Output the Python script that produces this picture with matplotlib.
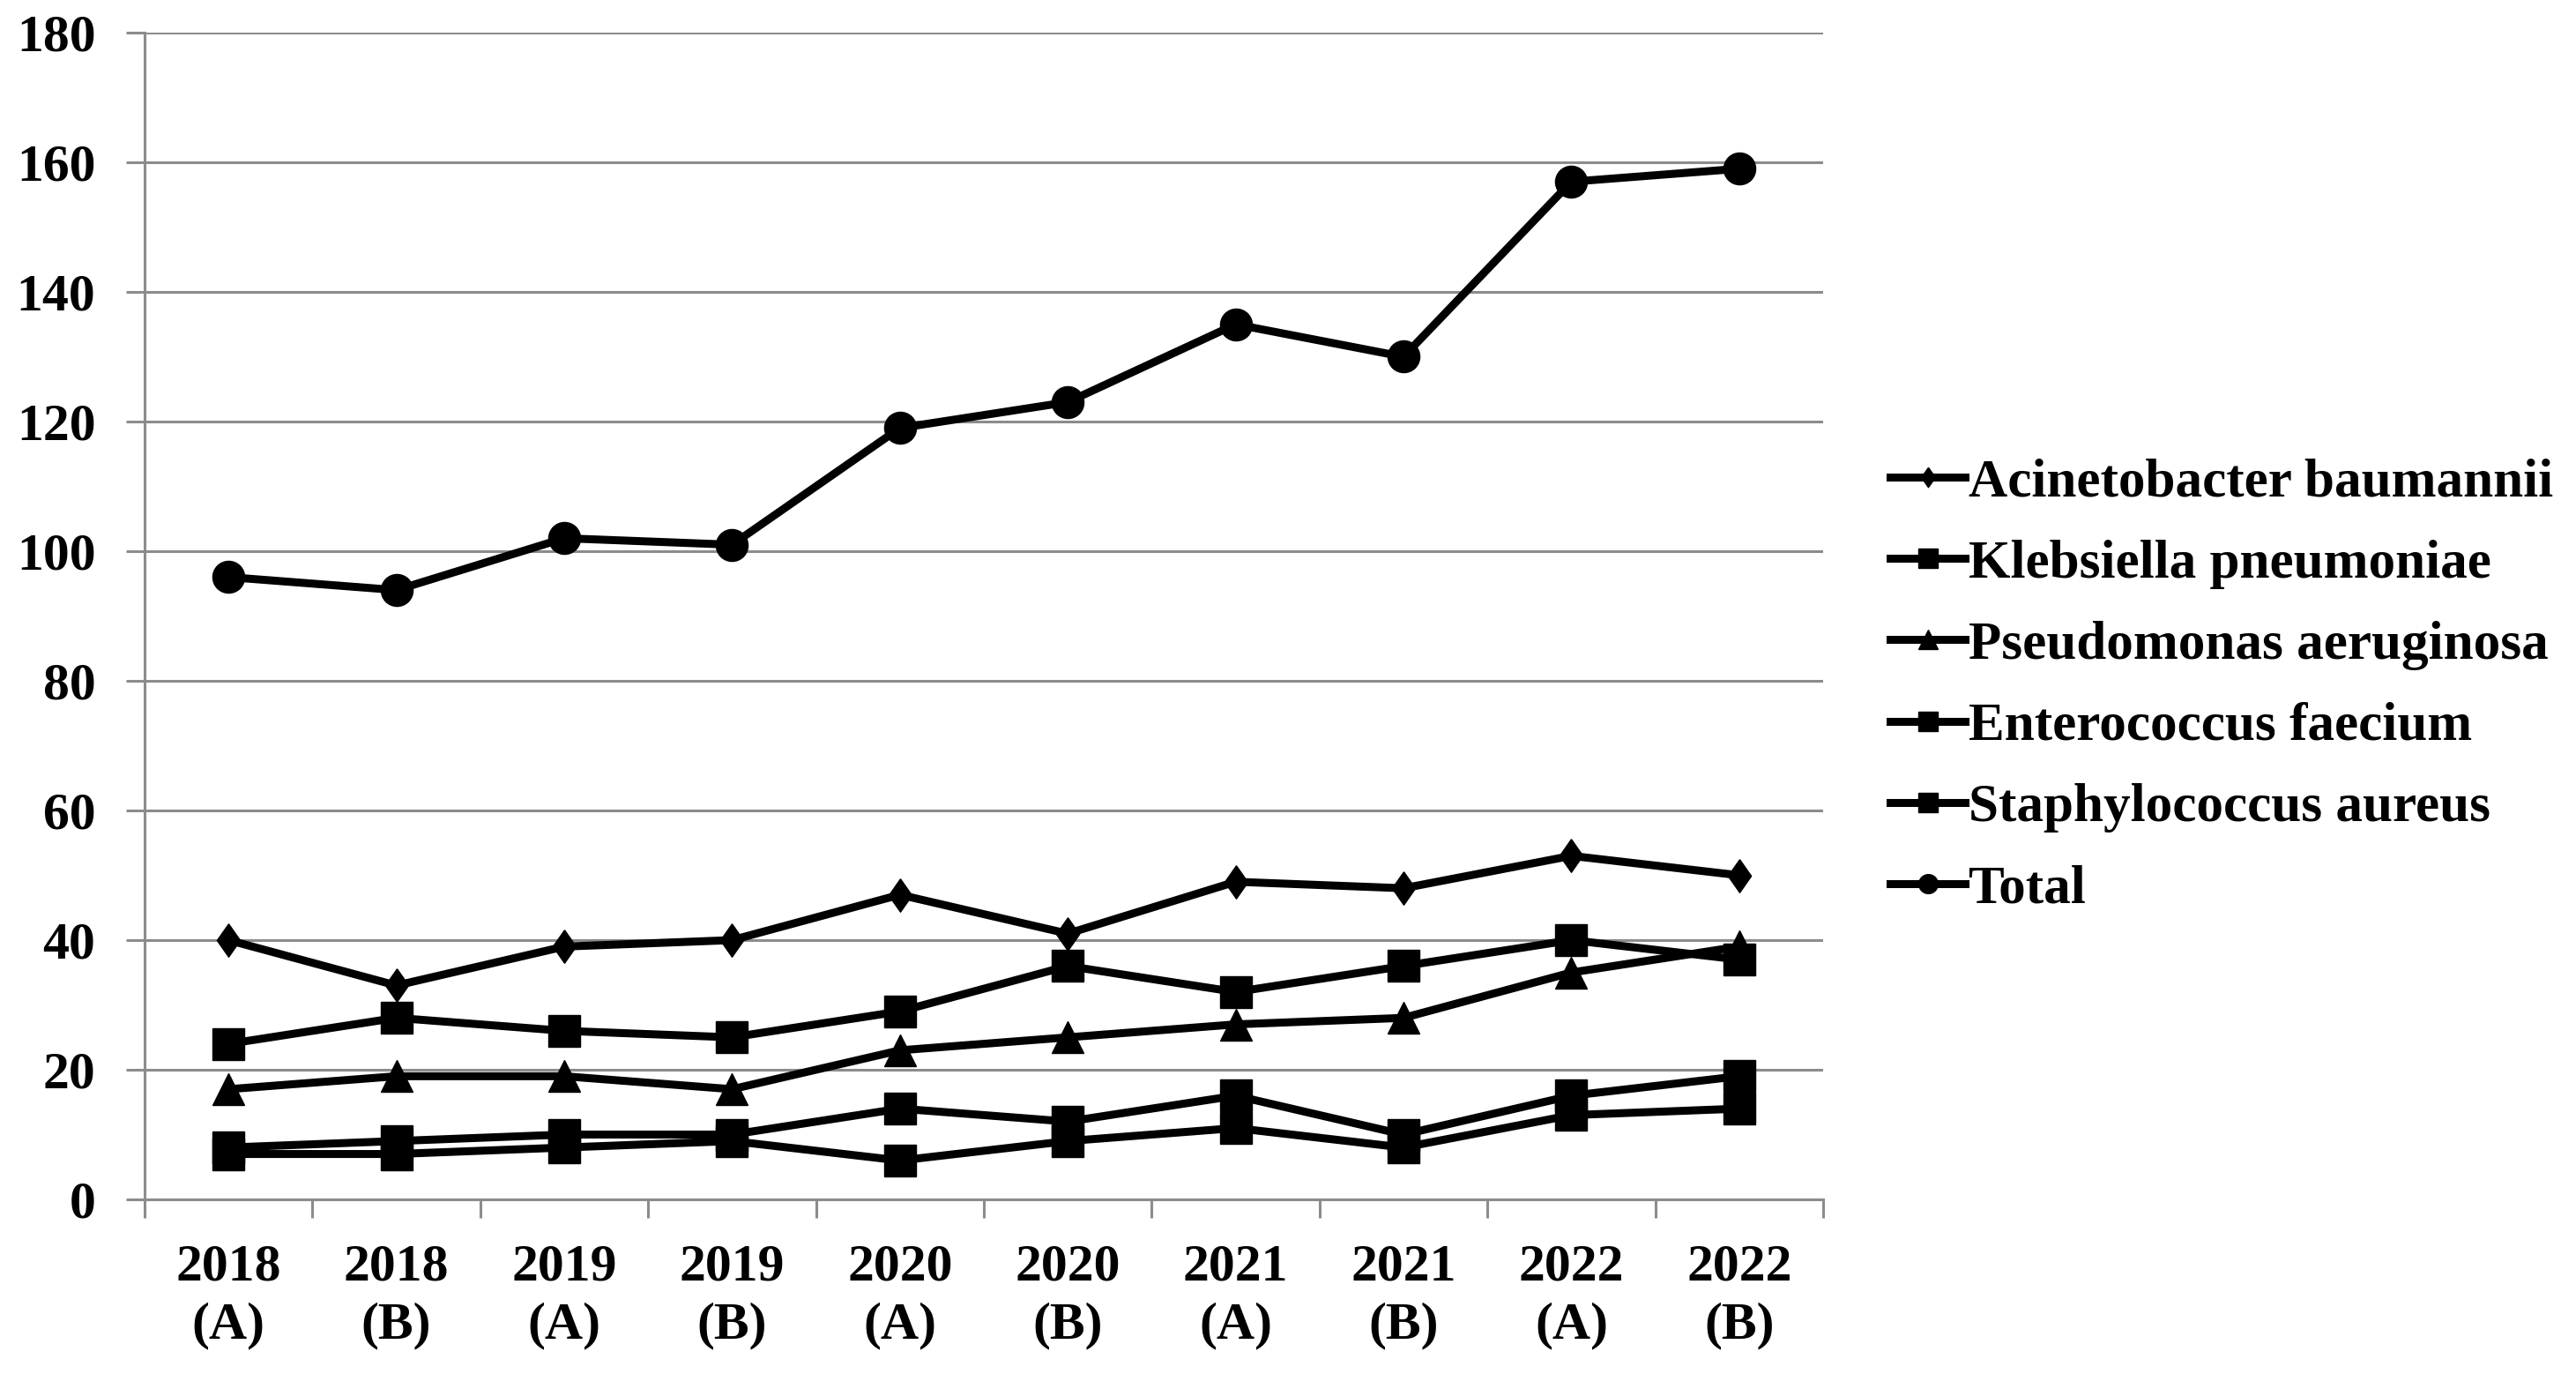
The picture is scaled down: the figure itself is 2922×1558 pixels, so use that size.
import matplotlib
matplotlib.use("Agg")
import matplotlib.pyplot as plt
from matplotlib.ticker import FixedLocator, MultipleLocator

categories = ["2018\n(A)", "2018\n(B)", "2019\n(A)", "2019\n(B)", "2020\n(A)",
              "2020\n(B)", "2021\n(A)", "2021\n(B)", "2022\n(A)", "2022\n(B)"]
acinetobacter = [40, 33, 39, 40, 47, 41, 49, 48, 53, 50]
klebsiella = [24, 28, 26, 25, 29, 36, 32, 36, 40, 37]
pseudomonas = [17, 19, 19, 17, 23, 25, 27, 28, 35, 39]
enterococcus = [8, 9, 10, 10, 14, 12, 16, 10, 16, 19]
staphylococcus = [7, 7, 8, 9, 6, 9, 11, 8, 13, 14]
total = [96, 94, 102, 101, 119, 123, 135, 130, 157, 159]

diamond = [(0, 1), (0.7, 0), (0, -1), (-0.7, 0), (0, 1)]
series = [
    ("Acinetobacter baumannii", acinetobacter, diamond, 27),
    ("Klebsiella pneumoniae", klebsiella, "s", 26),
    ("Pseudomonas aeruginosa", pseudomonas, "^", 26),
    ("Enterococcus faecium", enterococcus, "s", 26),
    ("Staphylococcus aureus", staphylococcus, "s", 26),
    ("Total", total, "o", 26),
]

plt.rcParams['font.family'] = ['Liberation Serif', 'DejaVu Serif']
plt.rcParams['font.weight'] = 'bold'

fig = plt.figure(figsize=(29.22, 15.58), dpi=100)
ax = fig.add_axes([164/2922, 1 - 1360/1558, (2068-164)/2922, (1360-37)/1558])

x = list(range(len(categories)))
for name, vals, mk, ms in series:
    ax.plot(x, vals, color="black", lw=6.5, marker=mk, markersize=ms,
            markerfacecolor="black", markeredgecolor="black", label=name)

grid_c = "#8c8c8c"
ax.set_xlim(-0.5, len(categories) - 0.5)
ax.set_ylim(0, 180)
ax.yaxis.set_major_locator(MultipleLocator(20))
ax.yaxis.grid(True, color=grid_c, lw=2.2)
ax.set_axisbelow(True)
ax.xaxis.set_major_locator(FixedLocator(x))
ax.set_xticklabels(categories, fontsize=43, fontweight="bold", linespacing=1.3)
ax.xaxis.set_minor_locator(FixedLocator([i - 0.5 for i in range(len(categories) + 1)]))
ax.tick_params(axis="x", which="major", length=0, pad=36)
ax.tick_params(axis="x", which="minor", length=15, width=2.2, color=grid_c, direction="out")
ax.tick_params(axis="y", which="major", length=15, width=2.2, color=grid_c, direction="out",
               labelsize=43, pad=25)
for lab in ax.get_yticklabels():
    lab.set_fontweight("bold")
for s in ["top", "right"]:
    ax.spines[s].set_visible(False)
for s in ["left", "bottom"]:
    ax.spines[s].set_color(grid_c)
    ax.spines[s].set_linewidth(2.2)

leg = ax.legend(loc="center left", bbox_to_anchor=(1.011, 0.44), frameon=False,
                prop={"size": 44, "weight": "bold"}, handlelength=1.4, handletextpad=0.05,
                labelspacing=0.59, markerscale=0.6)

fig.savefig("out.png", dpi=100)
